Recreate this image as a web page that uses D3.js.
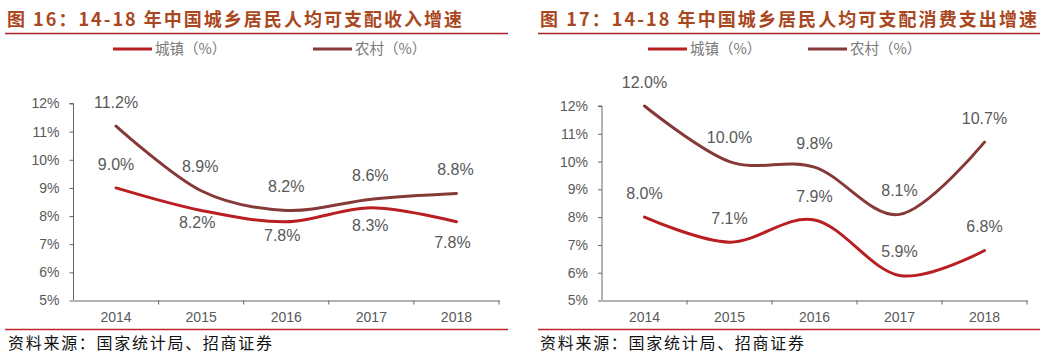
<!DOCTYPE html>
<html><head><meta charset="utf-8">
<script src="https://cdn.jsdelivr.net/npm/d3@7"></script>
<style>
html,body{margin:0;padding:0;background:#fff;}
svg{display:block;}
</style></head>
<body>
<svg id="c" width="1061" height="359"></svg>
<script>
// ---- data ----
const years = ["2014","2015","2016","2017","2018"];
const yTicks = [5,6,7,8,9,10,11,12];
const seriesNames = ["城镇（%）","农村（%）"];
const incomeUrban = [9.0, 8.2, 7.8, 8.3, 7.8];
const incomeRural = [11.2, 8.9, 8.2, 8.6, 8.8];
const consUrban = [8.0, 7.1, 7.9, 5.9, 6.8];
const consRural = [12.0, 10.0, 9.8, 8.1, 10.7];
const title1 = "图 16：14-18 年中国城乡居民人均可支配收入增速";
const title2 = "图 17：14-18 年中国城乡居民人均可支配消费支出增速";
const sourceText = "资料来源：国家统计局、招商证券";

// ---- styles / layout ----
const colUrban = "#B81E22", colRural = "#853A38";
const titleCol = "#A9471E", ruleCol = "#A8232A";
const svg = d3.select("#c");
const cjk = "'Noto Sans CJK SC','Noto Sans',sans-serif";
const arial = "'Liberation Sans',Arial,sans-serif";

function panel(o){
  const g = svg.append("g");
  // title
  g.append("text").attr("x",o.tx).attr("y",19.5).attr("dy","0.36em").text(o.title)
    .attr("font-family",cjk).attr("font-weight","bold").attr("font-size",18)
    .attr("fill",titleCol).attr("textLength",o.tw).attr("lengthAdjust","spacing");
  g.append("line").attr("x1",o.rx1).attr("x2",o.rx2).attr("y1",33.5).attr("y2",33.5)
    .attr("stroke",ruleCol).attr("stroke-width",1.6);
  // legend
  const lc=[colUrban,colRural];
  o.leg.forEach((lx,i)=>{
    g.append("line").attr("x1",lx).attr("x2",lx+39).attr("y1",49).attr("y2",49)
      .attr("stroke",lc[i]).attr("stroke-width",3);
    g.append("text").attr("x",lx+42).attr("y",49).attr("dy","0.35em").text(seriesNames[i])
      .attr("font-family",cjk).attr("font-size",14.5).attr("fill","#7a7a7a");
  });
  // scales
  const x = d3.scaleBand().domain(years).range([o.px0,o.px1]);
  const y = d3.scaleLinear().domain([5,12]).range([300.5,o.ytop]);
  // y axis
  const ya = g.append("g").attr("transform",`translate(${o.px0},0)`)
    .call(d3.axisLeft(y).tickValues(yTicks).tickSize(4).tickFormat(d=>d+"%"));
  ya.select(".domain").attr("stroke","#666").attr("d",`M-4,${o.ytop}H0V300.5`);
  ya.selectAll(".tick line").attr("stroke","#666");
  ya.selectAll(".tick text").attr("x",-14).attr("font-family",arial).attr("font-size",14).attr("fill","#595959");
  // x axis
  const xa = g.append("g").attr("transform",`translate(0,300.5)`)
    .call(d3.axisBottom(x).tickSize(0).tickPadding(12));
  xa.select(".domain").attr("stroke","#666");
  xa.selectAll(".tick text").attr("font-family",arial).attr("font-size",14).attr("fill","#595959");
  const bounds = years.map(d=>x(d)).concat([o.px1]).slice(1);
  xa.selectAll(".bt").data(bounds).enter().append("line").attr("class","bt")
    .attr("x1",d=>d).attr("x2",d=>d).attr("y1",0).attr("y2",4).attr("stroke","#666");
  // lines
  const line = d3.line().x((d,i)=>x(years[i])+x.bandwidth()/2).y(d=>y(d))
    .curve(d3.curveCatmullRom.alpha(0));
  [[o.urban,colUrban],[o.rural,colRural]].forEach(([vals,c])=>{
    g.append("path").datum(vals).attr("d",line).attr("fill","none")
      .attr("stroke",c).attr("stroke-width",3).attr("stroke-linecap","round");
  });
  // data labels
  [[o.urban,o.uOff],[o.rural,o.rOff]].forEach(([vals,off])=>{
    g.selectAll(null).data(vals).enter().append("text")
      .attr("x",(d,i)=>x(years[i])+x.bandwidth()/2+off[i][0])
      .attr("y",(d,i)=>y(d)+off[i][1]).attr("dy","0.35em")
      .attr("text-anchor","middle").text(d=>d.toFixed(1)+"%")
      .attr("font-family",arial).attr("font-size",16).attr("fill","#595959");
  });
  // source
  g.append("line").attr("x1",o.rx1).attr("x2",o.rx2).attr("y1",329.5).attr("y2",329.5)
    .attr("stroke","#C0262C").attr("stroke-width",1.4);
  g.append("text").attr("x",o.sx).attr("y",343.5).attr("dy","0.36em").text(sourceText)
    .attr("font-family",cjk).attr("font-size",16).attr("fill","#111")
    .attr("textLength",264).attr("lengthAdjust","spacing");
}

panel({title:title1,tx:7,tw:455,rx1:5,rx2:508,leg:[113,313],px0:73.5,px1:499,ytop:103.5,
  urban:incomeUrban,rural:incomeRural,
  uOff:[[0,-24],[-4,12],[-4,14],[-1,18],[-4,21]],
  rOff:[[0,-24],[-1,-24],[0,-24],[-1,-24],[-1,-24]],sx:8});
panel({title:title2,tx:540,tw:497,rx1:538,rx2:1040,leg:[648,808],px0:602,px1:1027,ytop:106,
  urban:consUrban,rural:consRural,
  uOff:[[0,-24],[0,-24],[0,-24],[0,-24],[0,-24]],
  rOff:[[0,-24],[0,-24],[0,-24],[0,-24],[0,-24]],sx:540});
</script>
</body></html>
